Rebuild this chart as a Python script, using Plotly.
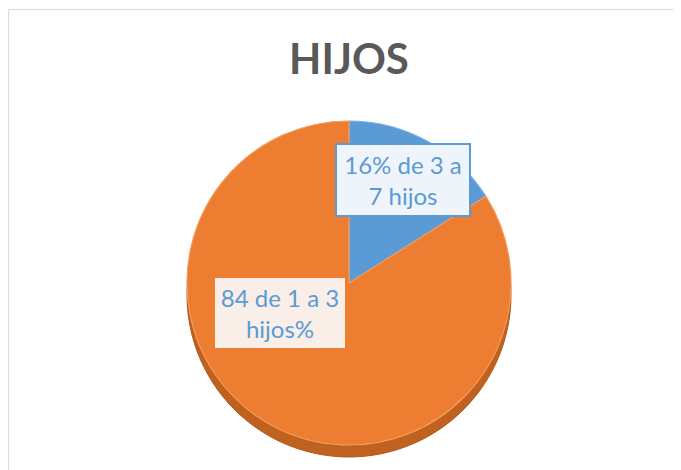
import plotly.graph_objects as go

title_text = "HIJOS"
categories = ["de 3 a 7 hijos", "de 1 a 3 hijos"]
values = [16, 84]
label_texts = ["16% de 3 a<br>7 hijos", "84 de 1 a 3<br>hijos%"]
top_colors = ["#5b9bd5", "#ed7d31"]
side_colors = ["#41719c", "#c0621f"]

W, H = 681, 470
OFF = 8  # page body margin offset

def px(x):
    return (x - OFF) / W

def py(y):
    return 1 - (y - OFF) / H

cx, cy, r, depth = 349, 283, 162, 12

def dom(cx, cy, r):
    return dict(x=[px(cx - r), px(cx + r)], y=[py(cy + r), py(cy - r)])

fig = go.Figure()
# depth (side) layer
fig.add_trace(go.Pie(
    labels=categories, values=values, sort=False, direction="clockwise", rotation=0,
    marker=dict(colors=side_colors, line=dict(color="#b5571a", width=1)),
    textinfo="none", hoverinfo="skip", showlegend=False,
    domain=dom(cx, cy + depth, r),
))
# top face
fig.add_trace(go.Pie(
    labels=categories, values=values, sort=False, direction="clockwise", rotation=0,
    marker=dict(colors=top_colors, line=dict(color=["#7fb0e0", "#f39a5c"], width=1.2)),
    textinfo="none", showlegend=False,
    domain=dom(cx, cy, r),
))

fig.add_annotation(
    x=px(403), y=py(180), xref="paper", yref="paper",
    text=label_texts[0], showarrow=False, align="center",
    font=dict(family="Lato, Open Sans, sans-serif", size=24, color="#5b9bd5"),
    bgcolor="#eff4fb", bordercolor="#5b9bd5", borderwidth=2,
    width=128, height=66, borderpad=2,
)
fig.add_annotation(
    x=px(280), y=py(351), xref="paper", yref="paper",
    text=label_texts[1], showarrow=False, align="center",
    font=dict(family="Lato, Open Sans, sans-serif", size=24, color="#5b9bd5"),
    bgcolor="#f9eee8", bordercolor="#ed7d31", borderwidth=3,
    width=126, height=66, borderpad=2,
)

fig.update_layout(
    width=W, height=H,
    margin=dict(l=0, r=0, t=0, b=0),
    paper_bgcolor="white", plot_bgcolor="white",
    title=dict(text="<b>" + title_text + "</b>", x=px(349), xanchor="center",
               y=py(59), yanchor="middle", yref="container",
               font=dict(family="Lato, Open Sans, sans-serif", size=42, color="#595959")),
    shapes=[dict(type="rect", xref="paper", yref="paper",
                 x0=0.6 / W, x1=1.02, y0=-0.02, y1=py(9.5),
                 line=dict(color="#d9d9d9", width=1), fillcolor="rgba(0,0,0,0)",
                 layer="below")],
)

fig.write_html("out.html")
